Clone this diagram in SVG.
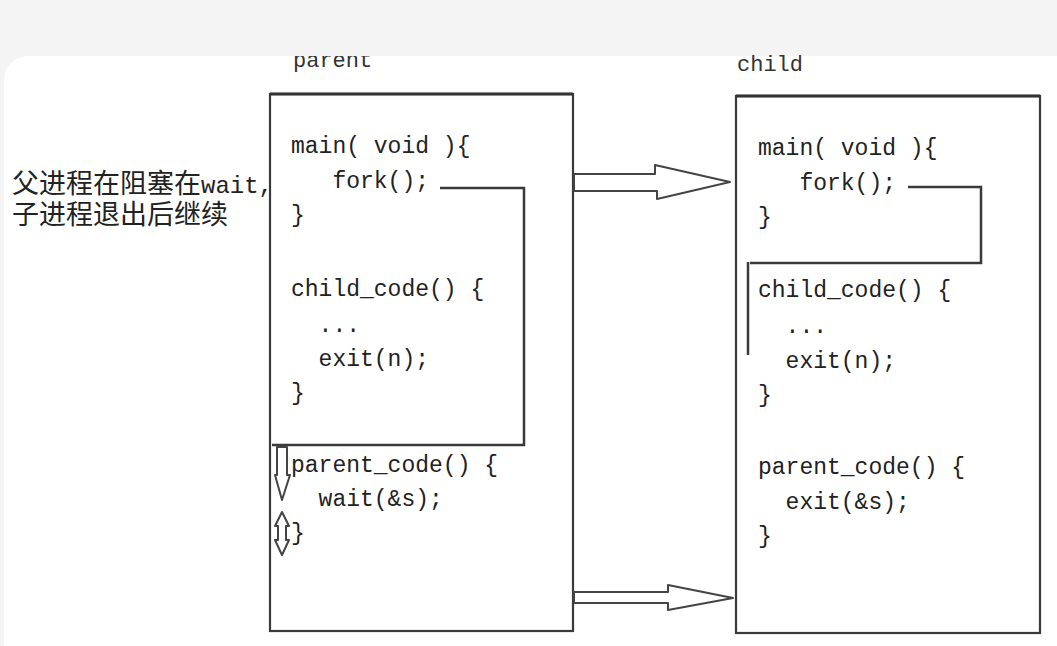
<svg xmlns="http://www.w3.org/2000/svg" width="1057" height="646" viewBox="0 0 1057 646">
<defs>
<style>
.code{font-family:"Liberation Mono","DejaVu Sans Mono",monospace;font-size:23px;fill:#222;}
.lbl{font-family:"Liberation Mono","DejaVu Sans Mono",monospace;font-size:22px;fill:#333;}
.cn{font-family:"Liberation Sans","Noto Sans CJK SC",sans-serif;font-size:27px;fill:#222;}
.box{fill:#fff;stroke:#3a3a3a;stroke-width:2.2;}
.line{fill:none;stroke:#3a3a3a;stroke-width:2.5;}
.arrow{fill:#fff;stroke:#444;stroke-width:2;stroke-linejoin:round;}
</style>
<clipPath id="card"><rect x="4" y="56" width="1080" height="620" rx="24"/></clipPath>
</defs>
<rect x="0" y="0" width="1057" height="646" fill="#f4f4f4"/>
<rect x="4" y="56" width="1080" height="620" rx="24" fill="#fff"/>
<g clip-path="url(#card)">
<text class="lbl" x="293" y="67">parent</text>
</g>
<text class="lbl" x="737" y="71">child</text>
<g id="note">
<text class="cn" x="12" y="193">父进程在阻塞在<tspan style="font-family:'Liberation Mono',monospace;font-size:24px">wait,</tspan></text>
<text class="cn" x="12" y="224">子进程退出后继续</text>
</g>
<g id="parent">
<rect class="box" x="270" y="94" width="303" height="537"/>
<line x1="270" y1="94" x2="573" y2="94" stroke="#333" stroke-width="3"/>
<text class="code" x="291" y="153">main( void ){</text>
<text class="code" x="291" y="188" xml:space="preserve">   fork();</text>
<text class="code" x="291" y="222">}</text>
<text class="code" x="291" y="296">child_code() {</text>
<text class="code" x="291" y="332" xml:space="preserve">  ...</text>
<text class="code" x="291" y="366" xml:space="preserve">  exit(n);</text>
<text class="code" x="291" y="400">}</text>
<text class="code" x="291" y="472">parent_code() {</text>
<text class="code" x="291" y="506" xml:space="preserve">  wait(&amp;s);</text>
<text class="code" x="291" y="540">}</text>
</g>
<g id="child">
<rect class="box" x="736" y="96" width="304" height="537"/>
<line x1="736" y1="96" x2="1040" y2="96" stroke="#333" stroke-width="3"/>
<text class="code" x="758" y="155">main( void ){</text>
<text class="code" x="758" y="190" xml:space="preserve">   fork();</text>
<text class="code" x="758" y="224">}</text>
<text class="code" x="758" y="297">child_code() {</text>
<text class="code" x="758" y="333" xml:space="preserve">  ...</text>
<text class="code" x="758" y="368" xml:space="preserve">  exit(n);</text>
<text class="code" x="758" y="402">}</text>
<text class="code" x="758" y="474">parent_code() {</text>
<text class="code" x="758" y="509" xml:space="preserve">  exit(&amp;s);</text>
<text class="code" x="758" y="543">}</text>
</g>
<g id="connectors">
<polyline class="line" points="440,188 524,188 524,445 272,445"/>
<polyline class="line" points="908,187 981,187 981,263 750,263"/>
<line class="line" x1="748" y1="262" x2="748" y2="355"/>
<path class="arrow" d="M574,174 L655,174 L655,165 L730,182 L657,199 L657,191 L574,191 Z"/>
<path class="arrow" d="M574,592 L668,592 L668,585 L733,598 L668,610 L668,603 L574,603 Z"/>
<path class="arrow" d="M277,447 L287,447 L287,475 L290,475 L282,500 L275,475 L277,475 Z" fill="#ccc"/>
<path class="arrow" d="M282,512 L289,526 L286,526 L286,540 L289,540 L282,555 L275,540 L278,540 L278,526 L275,526 Z" fill="#ccc"/>
</g>
</svg>
